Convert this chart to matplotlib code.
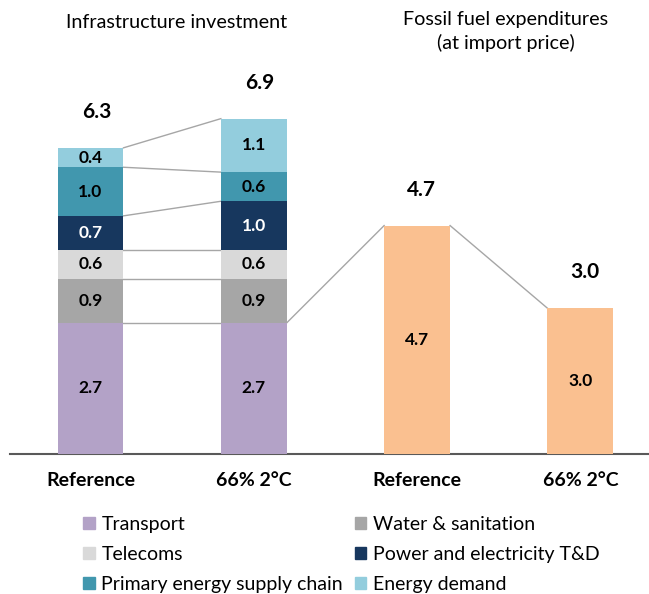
import numpy as np
import matplotlib
matplotlib.use('Agg')
import matplotlib.pyplot as plt
from matplotlib.patches import Patch

plt.rcParams['font.family'] = ['Lato', 'DejaVu Sans']

# data
categories = ['Reference', '66% 2°C', 'Reference', '66% 2°C']
sectors = ['Transport', 'Water & sanitation', 'Telecoms',
           'Power and electricity T&D', 'Primary energy supply chain', 'Energy demand']
infra_ref = [2.7, 0.9, 0.6, 0.7, 1.0, 0.4]
infra_2c = [2.7, 0.9, 0.6, 1.0, 0.6, 1.1]
fossil = [4.7, 3.0]

colors = ['#B3A2C7', '#A6A6A6', '#D9D9D9', '#17375E', '#4197AE', '#93CDDD']
text_colors = ['black', 'black', 'black', 'white', 'black', 'black']
fossil_color = '#FAC090'
line_color = '#A6A6A6'

W, H = 649, 594
fig = plt.figure(figsize=(W / 100, H / 100), dpi=100)
px = 48.6  # pixels per unit
ax = fig.add_axes([10 / W, 140 / H, 639 / W, 360 / H])
ax.set_ylim(0, 360 / px)
ax.set_xlim(-0.493, 3.42)

x = np.arange(4)
bw = 0.404

# stacked infrastructure bars
for xi, vals in zip(x[:2], [infra_ref, infra_2c]):
    bottom = 0
    for v, c, tc in zip(vals, colors, text_colors):
        ax.bar(xi, v, bw, bottom=bottom, color=c, zorder=3)
        ax.text(xi, bottom + v / 2, f'{v:.1f}', ha='center', va='center',
                fontsize=12.5, fontweight='bold', color=tc, zorder=4)
        bottom += v
    ax.annotate(f'{sum(vals):.1f}', (xi, bottom), xytext=(6, 36),
                textcoords='offset pixels', ha='center', va='center',
                fontsize=15, fontweight='bold', annotation_clip=False)

# fossil fuel bars
for xi, v in zip(x[2:], fossil):
    ax.bar(xi, v, bw, color=fossil_color, zorder=3)
    ax.text(xi, v / 2, f'{v:.1f}', ha='center', va='center',
            fontsize=12.5, fontweight='bold', zorder=4)
    ax.annotate(f'{v:.1f}', (xi, v), xytext=(4, 36),
                textcoords='offset pixels', ha='center', va='center',
                fontsize=15, fontweight='bold', annotation_clip=False)

# series lines
top_ref = np.cumsum(infra_ref)
top_2c = np.cumsum(infra_2c)
for a, b in zip(top_ref, top_2c):
    ax.plot([x[0] + bw / 2, x[1] - bw / 2], [a, b], color=line_color, lw=1, zorder=2)
ax.plot([x[1] + bw / 2, x[2] - bw / 2], [infra_2c[0], fossil[0]], color=line_color, lw=1, zorder=2)
ax.plot([x[2] + bw / 2, x[3] - bw / 2], [fossil[0], fossil[1]], color=line_color, lw=1, zorder=2)

for s in ['top', 'left', 'right']:
    ax.spines[s].set_visible(False)
ax.spines['bottom'].set_color('#595959')
ax.spines['bottom'].set_linewidth(1.5)
ax.set_yticks([])
ax.set_xticks(x)
ax.set_xticklabels(categories, fontsize=14, fontweight='bold')
ax.tick_params(axis='x', length=0, pad=13)

# titles
fig.text(177 / W, 1 - 23 / H, 'Infrastructure investment', ha='center', va='center', fontsize=14.2)
fig.text(506 / W, 1 - 31.5 / H, 'Fossil fuel expenditures\n(at import price)',
         ha='center', va='center', fontsize=14.2, linespacing=1.38)

# legend
handles = [Patch(color=c) for c in colors]
order = [0, 2, 4, 1, 3, 5]
fig.legend([handles[i] for i in order], [sectors[i] for i in order], ncol=2,
           loc='upper left', bbox_to_anchor=(83 / W, 1 - 516 / H), frameon=False,
           fontsize=14, handlelength=0.6, handleheight=0.6, handletextpad=0.35,
           labelspacing=0.66, columnspacing=0.6, borderaxespad=0, borderpad=0)

fig.savefig('out.png', dpi=100)
